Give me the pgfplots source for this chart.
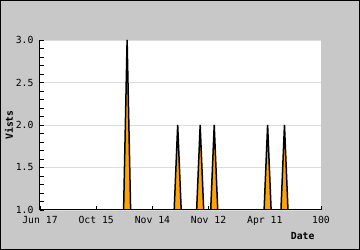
\documentclass[border=0pt]{standalone}
\usepackage{pgfplots}
\pgfplotsset{compat=1.18}
\usepackage{fontspec}
\setmainfont{DejaVu Sans Mono}
\setmonofont{DejaVu Sans Mono}
\definecolor{bg}{HTML}{C8C8C8}
\definecolor{spike}{HTML}{FFA500}
\definecolor{gridc}{HTML}{DCDCDC}
\begin{document}
\begin{tikzpicture}[x=1bp,y=1bp]
\draw[black, line width=1bp, fill=bg] (0.5,0.5) rectangle (359.5,249.5);
\begin{axis}[
  at={(40bp,40bp)}, anchor=south west,
  scale only axis, width=281bp, height=170bp,
  xmin=0, xmax=100, ymin=1, ymax=3,
  axis x line*=bottom, axis y line*=left,
  axis line style={-, line width=1bp, black},
  axis background/.style={fill=white},
  tick align=inside,
  major tick length=4bp, minor tick length=4bp,
  tick style={black, line width=0.8bp},
  xtick={0,20,40,60,80,100},
  xticklabels={Jun 17, Oct 15, Nov 14, Nov 12, Apr 11, 100},
  xticklabel style={yshift=-2.5bp},
  ytick={1,1.5,2,2.5,3},
  minor y tick num=4,
  yticklabel style={xshift=-3bp, /pgf/number format/.cd, fixed, fixed zerofill, precision=1},
  /pgf/number format/assume math mode=true,
  ticklabel style={font=\fontsize{9.8}{11}\selectfont},
  ymajorgrids, grid style={gridc, line width=0.8bp},
  ylabel={Vists},
  ylabel style={at={(axis description cs:-0.11,0.5)}, anchor=center, font=\fontsize{9.8}{11}\selectfont\bfseries},
  xlabel={Date},
  xlabel style={at={(axis description cs:1,0)}, anchor=east, yshift=-26bp, xshift=-3bp, font=\fontsize{9.8}{11}\selectfont\bfseries},
]
\addplot[draw=black, fill=spike, line width=1.5bp, line join=miter] coordinates {
(0,1) (29.75,1) (31,3) (32.25,1) (47.75,1) (49,2) (50.25,1) (55.75,1) (57,2) (58.25,1)
(60.75,1) (62,2) (63.25,1) (79.75,1) (81,2) (82.25,1) (85.75,1) (87,2) (88.25,1) (100,1)
} \closedcycle;
\end{axis}
\end{tikzpicture}
\end{document}
